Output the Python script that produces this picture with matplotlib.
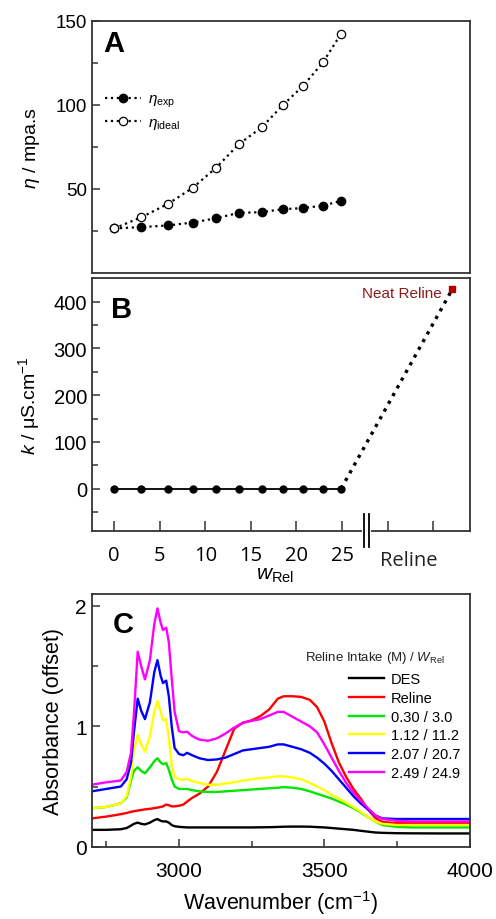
import matplotlib
matplotlib.use('Agg')
import matplotlib.pyplot as plt
from matplotlib.ticker import FixedLocator
import matplotlib.transforms as mtransforms

plt.rcParams['font.family'] = ['Liberation Sans', 'DejaVu Sans']
plt.rcParams['mathtext.fontset'] = 'custom'
plt.rcParams['mathtext.rm'] = 'Liberation Sans'
plt.rcParams['mathtext.it'] = 'Liberation Sans:italic'
plt.rcParams['mathtext.bf'] = 'Liberation Sans:bold'

# ---------------- Panel A / B data ----------------
w_rel = [0, 3.0, 5.9, 8.6, 11.2, 13.7, 16.2, 18.5, 20.7, 22.9, 24.9]
eta_exp = [26.5, 27.3, 28.3, 30.0, 32.6, 35.8, 36.2, 38.0, 38.6, 40.1, 42.9]
eta_ideal = [26.5, 33.2, 41.1, 50.6, 62.7, 76.8, 86.7, 99.9, 111.2, 125.3, 142.5]
kappa = [0, 0, 0, 0, 0, 0, 0, 0, 0, 0, 0]
neat_reline_slot = 37.1
neat_reline_kappa = 427
b_tick_values = [0, 5, 10, 15, 20, 25, 30, 35]
b_tick_labels = ['0', '5', '10', '15', '20', '25', '', '']

# ---------------- Panel C data ----------------
wavenumber = [2700, 2750, 2800, 2820, 2835, 2845, 2858, 2870, 2883, 2900,
              2915, 2926, 2937, 2945, 2956, 2965, 2975, 2985, 3000, 3015,
              3028, 3045, 3070, 3100, 3130, 3160, 3190, 3220, 3250, 3280,
              3310, 3340, 3360, 3390, 3420, 3450, 3475, 3500, 3525, 3550,
              3575, 3600, 3625, 3650, 3675, 3700, 3750, 3800, 3900, 4000]

abs_des = [0.140, 0.140, 0.145, 0.155, 0.175, 0.190, 0.200, 0.190, 0.185, 0.200,
           0.220, 0.230, 0.215, 0.210, 0.210, 0.200, 0.180, 0.170, 0.165, 0.162,
           0.160, 0.160, 0.160, 0.160, 0.160, 0.160, 0.160, 0.160, 0.160, 0.161,
           0.162, 0.164, 0.166, 0.167, 0.167, 0.166, 0.163, 0.160, 0.155, 0.150,
           0.145, 0.140, 0.132, 0.125, 0.118, 0.115, 0.112, 0.111, 0.110, 0.110]

abs_reline = [0.235, 0.250, 0.270, 0.280, 0.290, 0.295, 0.300, 0.305, 0.310, 0.315,
              0.320, 0.325, 0.330, 0.335, 0.350, 0.345, 0.335, 0.335, 0.340, 0.350,
              0.375, 0.405, 0.440, 0.500, 0.620, 0.800, 0.980, 1.030, 1.050, 1.085,
              1.140, 1.230, 1.250, 1.250, 1.245, 1.220, 1.160, 1.040, 0.860, 0.700,
              0.580, 0.480, 0.400, 0.310, 0.240, 0.205, 0.195, 0.195, 0.195, 0.195]

abs_030 = [0.320, 0.330, 0.360, 0.410, 0.550, 0.630, 0.660, 0.630, 0.610, 0.660,
           0.710, 0.735, 0.700, 0.685, 0.695, 0.640, 0.560, 0.500, 0.480, 0.480,
           0.480, 0.470, 0.460, 0.455, 0.455, 0.460, 0.465, 0.470, 0.475, 0.480,
           0.485, 0.490, 0.495, 0.490, 0.480, 0.460, 0.440, 0.420, 0.400, 0.375,
           0.350, 0.320, 0.285, 0.245, 0.210, 0.180, 0.165, 0.160, 0.160, 0.160]

abs_112 = [0.320, 0.330, 0.360, 0.420, 0.580, 0.800, 0.930, 0.850, 0.790, 0.920,
           1.120, 1.210, 1.120, 1.050, 1.060, 0.900, 0.680, 0.580, 0.560, 0.555,
           0.565, 0.545, 0.530, 0.515, 0.515, 0.525, 0.535, 0.550, 0.560, 0.570,
           0.575, 0.585, 0.585, 0.575, 0.560, 0.530, 0.500, 0.470, 0.430, 0.400,
           0.365, 0.330, 0.290, 0.245, 0.210, 0.190, 0.180, 0.180, 0.180, 0.180]

abs_207 = [0.460, 0.480, 0.500, 0.560, 0.700, 0.950, 1.230, 1.130, 1.060, 1.200,
           1.450, 1.550, 1.420, 1.360, 1.380, 1.250, 1.000, 0.820, 0.770, 0.760,
           0.780, 0.760, 0.735, 0.720, 0.725, 0.740, 0.770, 0.800, 0.810, 0.820,
           0.830, 0.850, 0.850, 0.830, 0.810, 0.780, 0.740, 0.690, 0.630, 0.560,
           0.490, 0.420, 0.360, 0.310, 0.260, 0.235, 0.230, 0.230, 0.230, 0.230]

abs_249 = [0.515, 0.535, 0.550, 0.620, 0.780, 1.100, 1.620, 1.500, 1.390, 1.550,
           1.850, 1.980, 1.860, 1.800, 1.820, 1.700, 1.400, 1.120, 0.960, 0.950,
           0.955, 0.920, 0.890, 0.880, 0.900, 0.940, 0.990, 1.030, 1.045, 1.060,
           1.090, 1.120, 1.120, 1.080, 1.040, 1.000, 0.950, 0.850, 0.740, 0.630,
           0.530, 0.450, 0.380, 0.320, 0.260, 0.230, 0.215, 0.210, 0.210, 0.210]

spectra_labels = ['DES', 'Reline', '0.30 / 3.0', '1.12 / 11.2', '2.07 / 20.7', '2.49 / 24.9']
spectra_values = [abs_des, abs_reline, abs_030, abs_112, abs_207, abs_249]
spectra_colors = ['#000000', '#ff0000', '#00e600', '#ffff00', '#0000ff', '#ff00ff']

SPINE = '#333333'


def style_axes(ax, fs):
    for s in ax.spines.values():
        s.set_color(SPINE)
        s.set_linewidth(1.3)
    ax.tick_params(which='both', direction='in', color=SPINE, labelsize=fs,
                   top=False, right=False, width=1.1)
    ax.tick_params(which='major', length=6)
    ax.tick_params(which='minor', length=4)


fig = plt.figure(figsize=(4.96, 9.2), dpi=100)

# ---------------- Panel A ----------------
axA = fig.add_axes([0.185, 0.7022, 0.762, 0.2739])
axA.plot(w_rel, eta_exp, ls=':', color='black', lw=1.6, marker='o', ms=6,
         mfc='black', mec='black', label=r'$\eta_{\mathrm{exp}}$')
axA.plot(w_rel, eta_ideal, ls=':', color='black', lw=1.6, marker='o', ms=6,
         mfc='white', mec='black', mew=0.9, label=r'$\eta_{\mathrm{ideal}}$')
axA.set_xlim(-2.45, 39)
axA.set_ylim(0, 150)
axA.set_xticks([])
axA.yaxis.set_major_locator(FixedLocator([50, 100, 150]))
axA.yaxis.set_minor_locator(FixedLocator([25, 75, 125]))
style_axes(axA, 13.5)
axA.set_ylabel(r'$\eta$ / mpa.s', fontsize=14, labelpad=10)
axA.text(0.03, 0.97, 'A', transform=axA.transAxes, fontsize=21, fontweight='bold',
         va='top', ha='left')
axA.legend(loc='upper left', bbox_to_anchor=(0.02, 0.743), frameon=False,
           fontsize=11, handlelength=2.3, handletextpad=0.5, labelspacing=0.4,
           borderaxespad=0)

# ---------------- Panel B ----------------
axB = fig.add_axes([0.185, 0.4221, 0.762, 0.2743])
axB.plot(w_rel, kappa, ls='-', color='black', lw=1.3, marker='o', ms=5, zorder=3)
axB.plot([w_rel[-1], neat_reline_slot], [kappa[-1], neat_reline_kappa], ls=':',
         color='black', lw=2.4, zorder=2)
axB.plot([neat_reline_slot], [neat_reline_kappa], ls='none', marker='s', ms=4.5,
         color='#b00000', zorder=4)
axB.text(neat_reline_slot - 1.2, neat_reline_kappa - 8, 'Neat Reline', color='#8b1a1a',
         fontsize=11, ha='right', va='center')
axB.set_xlim(-2.45, 39)
axB.set_ylim(-90, 450)
axB.set_xticks(b_tick_values)
axB.set_xticklabels(b_tick_labels, fontfamily='Open Sans')
axB.yaxis.set_major_locator(FixedLocator([0, 100, 200, 300, 400]))
axB.yaxis.set_minor_locator(FixedLocator([-50, 50, 150, 250, 350]))
style_axes(axB, 14.5)
axB.tick_params(axis='x', which='major', length=7, pad=10)
axB.set_ylabel(r'$k$ / μS.cm$^{-1}$', fontsize=14, labelpad=8)
axB.text(0.05, 0.935, 'B', transform=axB.transAxes, fontsize=21, fontweight='bold',
         va='top', ha='left')
trB = mtransforms.blended_transform_factory(axB.transData, axB.transAxes)
axB.text(32.3, -0.115, 'Reline', transform=trB, fontsize=14.5, fontfamily='Open Sans',
         ha='center', va='center', color='#222222')
# axis break marks
axB.plot([27.4, 28.0], [0, 0], transform=trB, color='white', lw=3, clip_on=False, zorder=5)
for xb in (27.4, 28.0):
    axB.plot([xb, xb], [-0.065, 0.066], transform=trB, color='black', lw=1.3,
             clip_on=False, zorder=6)
axB.set_xlabel(r'$w_{\mathrm{Rel}}$', fontsize=15)
axB.xaxis.set_label_coords(0.485, -0.135)

# ---------------- Panel C ----------------
axC = fig.add_axes([0.185, 0.0786, 0.762, 0.2747])
for vals, lab, col in zip(spectra_values, spectra_labels, spectra_colors):
    axC.plot(wavenumber, vals, color=col, lw=1.7, label=lab)
axC.set_xlim(2700, 4000)
axC.set_ylim(0, 2.1)
axC.xaxis.set_major_locator(FixedLocator([3000, 3500, 4000]))
axC.xaxis.set_minor_locator(FixedLocator([2750, 3250, 3750]))
axC.yaxis.set_major_locator(FixedLocator([0, 1, 2]))
axC.yaxis.set_minor_locator(FixedLocator([0.5, 1.5]))
style_axes(axC, 15)
axC.tick_params(axis='x', which='major', pad=10)
axC.set_xlabel(r'Wavenumber (cm$^{-1}$)', fontsize=15.5, labelpad=6)
axC.set_ylabel('Absorbance (offset)', fontsize=15.5, labelpad=8)
axC.text(0.056, 0.935, 'C', transform=axC.transAxes, fontsize=21, fontweight='bold',
         va='top', ha='left')
axC.text(0.564, 0.751, r'Reline Intake (M) / $W_{\mathrm{Rel}}$', transform=axC.transAxes,
         fontsize=9.5, ha='left', va='center', color='#222222')
axC.legend(loc='upper left', bbox_to_anchor=(0.68, 0.69), frameon=False,
           fontsize=10.5, handlelength=2.4, handletextpad=0.5, labelspacing=0.32,
           borderaxespad=0, borderpad=0)

fig.savefig('out.png', dpi=100)
